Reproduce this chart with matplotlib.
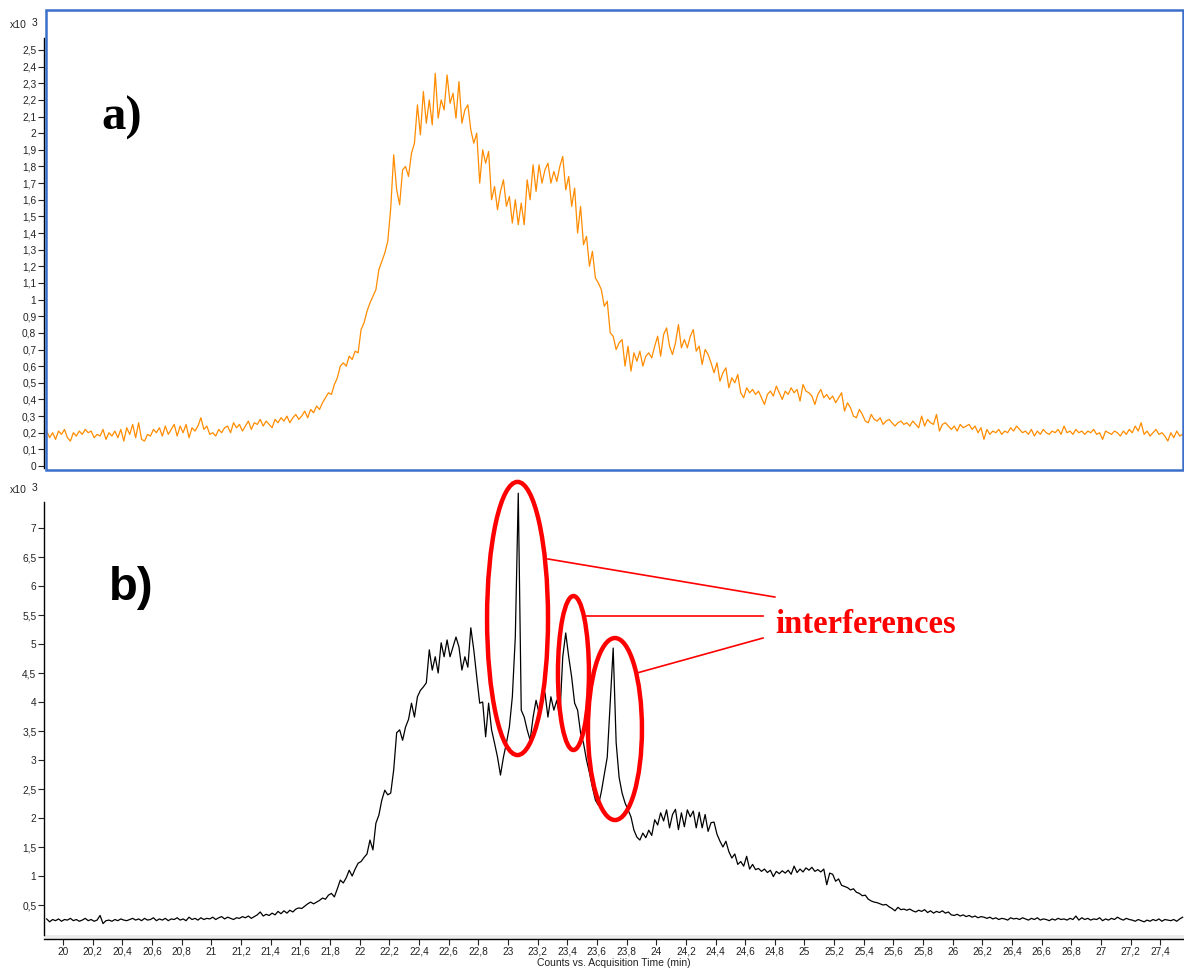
import numpy as np
import matplotlib
matplotlib.use('Agg')
import matplotlib.pyplot as plt
from matplotlib.patches import Ellipse, Rectangle

W, H = 1184, 969
plt.rcParams['font.family'] = ['Liberation Sans', 'DejaVu Sans']

# ---------------- data (counts x10^3) ----------------
T0, DT = 19.89, 0.02   # acquisition start (min) and sampling step (min)

counts_a = [
    0.21, 0.17, 0.20, 0.16, 0.21, 0.19, 0.22, 0.17, 0.15, 0.20,
    0.18, 0.21, 0.19, 0.22, 0.20, 0.21, 0.17, 0.19, 0.18, 0.22,
    0.16, 0.20, 0.18, 0.21, 0.17, 0.22, 0.15, 0.23, 0.19, 0.25,
    0.17, 0.26, 0.16, 0.15, 0.19, 0.18, 0.22, 0.20, 0.23, 0.18,
    0.24, 0.19, 0.22, 0.25, 0.18, 0.24, 0.20, 0.25, 0.17, 0.23,
    0.21, 0.24, 0.29, 0.22, 0.24, 0.19, 0.20, 0.18, 0.22, 0.20,
    0.23, 0.24, 0.20, 0.26, 0.23, 0.25, 0.21, 0.24, 0.27, 0.22,
    0.26, 0.25, 0.28, 0.24, 0.27, 0.25, 0.23, 0.28, 0.26, 0.29,
    0.27, 0.30, 0.26, 0.29, 0.31, 0.28, 0.30, 0.33, 0.29, 0.34,
    0.32, 0.36, 0.34, 0.38, 0.41, 0.44, 0.43, 0.49, 0.53, 0.60,
    0.62, 0.60, 0.66, 0.64, 0.69, 0.68, 0.82, 0.86, 0.93, 0.98,
    1.02, 1.06, 1.18, 1.23, 1.28, 1.35, 1.55, 1.87, 1.66, 1.57,
    1.78, 1.80, 1.74, 1.88, 1.94, 2.17, 1.99, 2.25, 2.06, 2.20,
    2.05, 2.36, 2.09, 2.20, 2.14, 2.35, 2.18, 2.24, 2.09, 2.31,
    2.06, 2.14, 2.17, 2.02, 1.94, 2.00, 1.70, 1.90, 1.82, 1.89,
    1.60, 1.68, 1.54, 1.65, 1.72, 1.56, 1.62, 1.46, 1.60, 1.45,
    1.58, 1.45, 1.72, 1.60, 1.81, 1.65, 1.81, 1.70, 1.78, 1.82,
    1.70, 1.77, 1.71, 1.80, 1.86, 1.66, 1.74, 1.56, 1.67, 1.40,
    1.56, 1.33, 1.38, 1.20, 1.29, 1.13, 1.10, 1.06, 0.96, 0.99,
    0.80, 0.78, 0.70, 0.74, 0.76, 0.60, 0.72, 0.57, 0.68, 0.63,
    0.69, 0.60, 0.66, 0.68, 0.65, 0.72, 0.78, 0.66, 0.79, 0.83,
    0.72, 0.67, 0.74, 0.85, 0.71, 0.76, 0.71, 0.78, 0.82, 0.69,
    0.72, 0.61, 0.70, 0.67, 0.62, 0.56, 0.62, 0.51, 0.56, 0.59,
    0.47, 0.53, 0.50, 0.55, 0.44, 0.41, 0.47, 0.44, 0.46, 0.43,
    0.45, 0.41, 0.37, 0.43, 0.45, 0.42, 0.48, 0.44, 0.40, 0.45,
    0.43, 0.47, 0.44, 0.46, 0.39, 0.49, 0.45, 0.44, 0.42, 0.37,
    0.43, 0.46, 0.41, 0.43, 0.40, 0.42, 0.38, 0.41, 0.44, 0.33,
    0.38, 0.35, 0.30, 0.29, 0.34, 0.31, 0.27, 0.26, 0.31, 0.28,
    0.27, 0.29, 0.25, 0.27, 0.28, 0.26, 0.24, 0.26, 0.27, 0.25,
    0.26, 0.24, 0.27, 0.25, 0.23, 0.30, 0.24, 0.28, 0.26, 0.25,
    0.31, 0.21, 0.25, 0.26, 0.24, 0.22, 0.24, 0.21, 0.25, 0.23,
    0.24, 0.25, 0.22, 0.24, 0.20, 0.23, 0.16, 0.22, 0.19, 0.21,
    0.20, 0.22, 0.19, 0.21, 0.20, 0.23, 0.21, 0.24, 0.22, 0.20,
    0.21, 0.19, 0.22, 0.18, 0.21, 0.19, 0.22, 0.20, 0.19, 0.21,
    0.20, 0.22, 0.19, 0.24, 0.20, 0.21, 0.19, 0.22, 0.20, 0.21,
    0.19, 0.21, 0.20, 0.22, 0.19, 0.20, 0.16, 0.21, 0.20, 0.19,
    0.21, 0.20, 0.18, 0.21, 0.19, 0.22, 0.20, 0.24, 0.21, 0.26,
    0.19, 0.21, 0.18, 0.20, 0.22, 0.19, 0.20, 0.18, 0.15, 0.20,
    0.17, 0.21, 0.18, 0.19,
]

counts_b = [
    0.26, 0.21, 0.25, 0.23, 0.26, 0.22, 0.25, 0.24, 0.27, 0.23,
    0.25, 0.22, 0.24, 0.27, 0.23, 0.25, 0.22, 0.24, 0.32, 0.18,
    0.23, 0.24, 0.22, 0.25, 0.23, 0.26, 0.24, 0.23, 0.25, 0.27,
    0.24, 0.26, 0.23, 0.27, 0.24, 0.25, 0.28, 0.23, 0.26, 0.24,
    0.27, 0.23, 0.26, 0.25, 0.28, 0.24, 0.26, 0.23, 0.29, 0.25,
    0.27, 0.24, 0.28, 0.25, 0.27, 0.26, 0.29, 0.25, 0.28, 0.30,
    0.26, 0.29, 0.27, 0.25, 0.28, 0.27, 0.30, 0.28, 0.31, 0.27,
    0.30, 0.33, 0.38, 0.31, 0.34, 0.32, 0.36, 0.33, 0.39, 0.35,
    0.40, 0.36, 0.41, 0.38, 0.43, 0.45, 0.44, 0.48, 0.52, 0.55,
    0.52, 0.55, 0.58, 0.62, 0.60, 0.67, 0.70, 0.64, 0.78, 0.93,
    0.88, 0.97, 1.10, 1.00, 1.12, 1.22, 1.25, 1.32, 1.38, 1.62,
    1.45, 1.91, 2.05, 2.31, 2.48, 2.40, 2.43, 2.83, 3.47, 3.52,
    3.34, 3.57, 3.70, 3.98, 3.74, 4.09, 4.20, 4.26, 4.33, 4.90,
    4.55, 4.78, 4.50, 5.02, 4.78, 5.07, 4.78, 4.95, 5.12, 4.95,
    4.55, 4.78, 4.60, 5.28, 4.90, 4.43, 3.98, 4.00, 3.40, 3.98,
    3.52, 3.29, 3.05, 2.74, 3.05, 3.29, 3.57, 4.09, 5.12, 7.60,
    3.86, 3.74, 3.52, 3.34, 3.74, 4.03, 3.81, 4.09, 4.16, 3.74,
    4.09, 3.86, 4.03, 3.74, 4.78, 5.19, 4.78, 4.43, 3.98, 3.86,
    3.47, 3.29, 3.00, 2.78, 2.53, 2.31, 2.22, 2.45, 2.75, 3.05,
    3.98, 4.93, 3.30, 2.70, 2.43, 2.26, 2.14, 2.02, 1.79, 1.67,
    1.62, 1.74, 1.66, 1.79, 1.70, 1.97, 1.88, 2.09, 1.95, 2.14,
    1.83, 2.06, 2.15, 1.80, 2.09, 1.85, 2.14, 2.02, 2.12, 1.83,
    2.10, 1.83, 2.06, 1.77, 1.92, 1.93, 1.72, 1.60, 1.50, 1.60,
    1.42, 1.31, 1.38, 1.20, 1.25, 1.17, 1.34, 1.12, 1.20, 1.11,
    1.13, 1.08, 1.12, 1.06, 1.10, 0.99, 1.08, 1.04, 1.09, 1.05,
    1.10, 1.03, 1.17, 1.06, 1.12, 1.07, 1.14, 1.10, 1.15, 1.08,
    1.11, 1.07, 1.12, 0.85, 1.05, 1.03, 0.91, 0.95, 0.84, 0.82,
    0.80, 0.76, 0.78, 0.72, 0.70, 0.66, 0.67, 0.60, 0.57, 0.55,
    0.54, 0.52, 0.50, 0.51, 0.47, 0.44, 0.40, 0.46, 0.42, 0.43,
    0.41, 0.43, 0.40, 0.38, 0.41, 0.39, 0.42, 0.37, 0.40, 0.36,
    0.39, 0.37, 0.40, 0.36, 0.38, 0.33, 0.32, 0.34, 0.31, 0.33,
    0.30, 0.32, 0.29, 0.31, 0.28, 0.30, 0.29, 0.27, 0.29, 0.26,
    0.28, 0.25, 0.27, 0.26, 0.24, 0.28, 0.26, 0.27, 0.25, 0.28,
    0.26, 0.24, 0.27, 0.25, 0.28, 0.24, 0.26, 0.25, 0.23, 0.26,
    0.24, 0.27, 0.25, 0.26, 0.24, 0.27, 0.25, 0.31, 0.24, 0.28,
    0.25, 0.27, 0.24, 0.26, 0.25, 0.28, 0.23, 0.26, 0.24, 0.27,
    0.25, 0.29, 0.26, 0.24, 0.27, 0.25, 0.24, 0.22, 0.25, 0.23,
    0.21, 0.24, 0.22, 0.25, 0.23, 0.26, 0.22, 0.25, 0.24, 0.23,
    0.25, 0.22, 0.26, 0.29,
]

xticks = [20.0, 20.2, 20.4, 20.6, 20.8, 21.0, 21.2, 21.4, 21.6, 21.8,
          22.0, 22.2, 22.4, 22.6, 22.8, 23.0, 23.2, 23.4, 23.6, 23.8,
          24.0, 24.2, 24.4, 24.6, 24.8, 25.0, 25.2, 25.4, 25.6, 25.8,
          26.0, 26.2, 26.4, 26.6, 26.8, 27.0, 27.2, 27.4]
yticks_a = [0.0, 0.1, 0.2, 0.3, 0.4, 0.5, 0.6, 0.7, 0.8, 0.9, 1.0, 1.1, 1.2,
            1.3, 1.4, 1.5, 1.6, 1.7, 1.8, 1.9, 2.0, 2.1, 2.2, 2.3, 2.4, 2.5]
yticks_b = [0.5, 1.0, 1.5, 2.0, 2.5, 3.0, 3.5, 4.0, 4.5, 5.0, 5.5, 6.0, 6.5, 7.0]

# interference annotations (data coords of panel b)
ell_centers = [(23.065, 5.44), (23.442, 4.50), (23.722, 3.534)]
ell_sizes = [(0.411, 4.71), (0.209, 2.655), (0.364, 3.138)]
leader_lines = [((23.27, 24.80), (6.466, 5.81)),
                ((23.52, 24.72), (5.483, 5.483)),
                ((23.87, 24.72), (4.50, 5.103))]

times = np.round(T0 + DT * np.arange(len(counts_a)), 2)
assert len(counts_a) == len(counts_b)


def comma(v):
    s = ('%.1f' % v).rstrip('0').rstrip('.')
    return s.replace('.', ',')


XLIM = (19.872, 27.559)

fig = plt.figure(figsize=(W / 100, H / 100), dpi=100)
fig.patch.set_facecolor('white')

# ---------------- panel a ----------------
ax1 = fig.add_axes([44 / W, 1 - 468 / H, (1184 - 44) / W, (468 - 38) / H])
ax1.plot(times, counts_a, color='#ff8c00', lw=0.9)
ax1.set_xlim(*XLIM)
ax1.set_ylim(-0.012, 2.572)
for s in ['top', 'right', 'bottom']:
    ax1.spines[s].set_visible(False)
ax1.spines['left'].set_linewidth(1.0)
ax1.set_xticks([])
ax1.set_yticks(yticks_a)
ax1.set_yticklabels([comma(v) for v in yticks_a])
ax1.tick_params(axis='y', direction='out', length=4, width=0.8, pad=1.5,
                labelsize=7.3, colors='#222222')

# ---------------- panel b ----------------
# axes top extended to y=476 px so the tall spike and ellipse are not clipped
ax2 = fig.add_axes([44 / W, 1 - 939 / H, (1184 - 44) / W, (939 - 476) / H])
ax2.plot(times, counts_b, color='black', lw=0.9)
ax2.set_xlim(*XLIM)
ax2.set_ylim(-0.086, 0.5 + (905 - 476) / 58)
for s in ['top', 'right']:
    ax2.spines[s].set_visible(False)
ax2.spines['left'].set_linewidth(1.0)
ax2.spines['left'].set_bounds(-0.017, 7.448)
ax2.spines['bottom'].set_linewidth(1.0)
ax2.axhspan(-0.086, -0.017, color='#ececec', lw=0, zorder=0)
ax2.set_xticks(xticks)
ax2.set_xticklabels([comma(v) for v in xticks])
ax2.set_yticks(yticks_b)
ax2.set_yticklabels([comma(v) for v in yticks_b])
ax2.tick_params(axis='both', direction='out', length=4, width=0.8,
                labelsize=7.3, colors='#222222')
ax2.tick_params(axis='y', pad=1.5)
ax2.tick_params(axis='x', pad=1.5)

for (c, (w, h)) in zip(ell_centers, ell_sizes):
    ax2.add_patch(Ellipse(c, w, h, fill=False, ec='#ff0000', lw=3.2,
                          zorder=5))
for xs, ys in leader_lines:
    ax2.plot(xs, ys, color='#ff0000', lw=1.2, zorder=5)
ax2.text(24.80, 5.19, 'interferences', color='#ff0000', fontsize=23.5,
         fontweight='bold', family=['Liberation Serif', 'DejaVu Serif'],
         ha='left', va='baseline', zorder=6)

# ---------------- figure texts ----------------
def ftext(x, y, s, **kw):
    fig.text(x / W, 1 - y / H, s, **kw)

ftext(614, 963, 'Counts vs. Acquisition Time (min)', fontsize=7.5,
      color='#222222', ha='center', va='center')
ftext(10, 28, 'x10', fontsize=7.5, color='#222222', va='baseline')
ftext(32, 26, '3', fontsize=7.5, color='#222222', va='baseline')
ftext(10, 493, 'x10', fontsize=7.5, color='#222222', va='baseline')
ftext(32, 491, '3', fontsize=7.5, color='#222222', va='baseline')

ftext(101, 130, 'a)', fontsize=35, fontweight='bold',
      family=['Liberation Serif', 'DejaVu Serif'], va='baseline')
ftext(109, 600, 'b)', fontsize=34, fontweight='bold',
      family=['Liberation Sans', 'DejaVu Sans'], va='baseline')

# blue selection frame around panel a
fig.add_artist(Rectangle((46 / W, 1 - 470 / H), (1183 - 46) / W, (470 - 10) / H,
                         fill=False, ec='#3b6fc9', lw=1.8,
                         transform=fig.transFigure, zorder=10))

fig.savefig('out.png', dpi=100, facecolor='white')
